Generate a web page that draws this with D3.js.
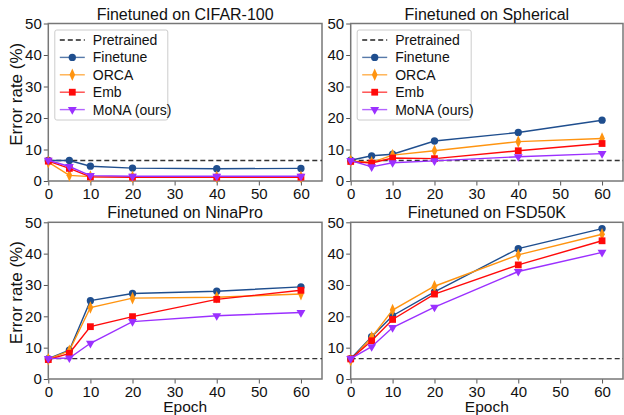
<!DOCTYPE html>
<html>
<head>
<meta charset="utf-8">
<script src="https://cdn.jsdelivr.net/npm/d3@7"></script>
<style>
  body { margin: 0; background: #fff; }
  svg { display: block; font-family: "Liberation Sans", Arial, sans-serif; }
</style>
</head>
<body>
<script>
const width = 624
const height = 415

const epochs = [0, 5, 10, 20, 40, 60]
const pretrained = 6.5
const methods = ["Finetune", "ORCA", "Emb", "MoNA (ours)"]
const titles = ["Finetuned on CIFAR-100", "Finetuned on Spherical", "Finetuned on NinaPro", "Finetuned on FSD50K"]

// error rate per method, one array per panel
const cifarErr = {
  "Finetune":    [6.5, 6.5, 4.7, 4.1, 3.9, 4.0],
  "ORCA":        [6.0, 1.8, 1.4, 1.3, 1.3, 1.3],
  "Emb":         [6.3, 4.0, 1.3, 1.2, 1.2, 1.2],
  "MoNA (ours)": [6.6, 4.6, 1.7, 1.5, 1.5, 1.5]
}
const sphericalErr = {
  "Finetune":    [6.6, 8.0, 8.5, 12.7, 15.4, 19.3],
  "ORCA":        [6.4, 5.9, 8.2, 9.6, 12.5, 13.5],
  "Emb":         [6.2, 5.7, 7.3, 7.1, 9.6, 11.9],
  "MoNA (ours)": [6.5, 4.5, 5.8, 6.4, 7.7, 8.7]
}
const ninaproErr = {
  "Finetune":    [6.5, 9.2, 25.0, 27.3, 28.0, 29.4],
  "ORCA":        [6.3, 9.0, 22.8, 25.8, 26.1, 27.1],
  "Emb":         [6.2, 8.2, 16.7, 19.9, 25.4, 28.3],
  "MoNA (ours)": [6.5, 6.7, 11.4, 18.3, 20.2, 21.2]
}
const fsdErr = {
  "Finetune":    [6.5, 13.5, 20.2, 27.8, 41.6, 48.0],
  "ORCA":        [6.0, 13.3, 22.0, 29.6, 39.6, 46.2],
  "Emb":         [6.4, 12.2, 19.0, 27.1, 36.4, 44.1],
  "MoNA (ours)": [6.5, 10.3, 16.4, 22.9, 34.3, 40.4]
}
const panelData = [cifarErr, sphericalErr, ninaproErr, fsdErr]

const colors = {"Finetune": "#1f4e8e", "ORCA": "#ff9410", "Emb": "#ff0a0a", "MoNA (ours)": "#9b30ff"}
const symbols = {"Finetune": d3.symbolCircle, "ORCA": d3.symbolDiamond, "Emb": d3.symbolSquare, "MoNA (ours)": d3.symbolTriangle}
const symSize = {"Finetune": 42, "ORCA": 38, "Emb": 46, "MoNA (ours)": 34}

// panel boxes: left, top, right, bottom
const panels = [
  {x0: 48.3, y0: 23.5, x1: 322, y1: 181},
  {x0: 350.7, y0: 23.5, x1: 623, y1: 181},
  {x0: 48.3, y0: 222.3, x1: 322, y1: 379},
  {x0: 350.7, y0: 222.3, x1: 623, y1: 379}
]

const markTransform = (m, px, py) =>
  `translate(${px},${py})` + (m === "MoNA (ours)" ? " rotate(180)" : "") + (m === "ORCA" ? " scale(0.85,1.1)" : "")

const svg = d3.select("body").append("svg")
  .attr("width", width)
  .attr("height", height)

panels.forEach((p, i) => {
  const data = panelData[i]
  const x = d3.scaleLinear().domain([0, 65]).range([p.x0, p.x1])
  const y = d3.scaleLinear().domain([0, 50]).range([p.y1, p.y0])
  const g = svg.append("g")

  // axes
  const xAxis = g.append("g")
    .attr("transform", `translate(0,${p.y1})`)
    .call(d3.axisBottom(x).tickValues([0, 10, 20, 30, 40, 50, 60]).tickSizeOuter(0).tickSize(4.5).tickPadding(2.5))
  const yAxis = g.append("g")
    .attr("transform", `translate(${p.x0},0)`)
    .call(d3.axisLeft(y).tickValues([0, 10, 20, 30, 40, 50]).tickSizeOuter(0).tickSize(4.5).tickPadding(2))
  ;[xAxis, yAxis].forEach(a => {
    a.select(".domain").remove()
    a.selectAll(".tick line").attr("stroke", "#555").attr("stroke-width", 1)
    a.selectAll(".tick text").attr("fill", "#111").style("font-size", "15px").style("font-family", "Liberation Sans, Arial, sans-serif")
  })

  // frame
  g.append("rect")
    .attr("x", p.x0).attr("y", p.y0)
    .attr("width", p.x1 - p.x0).attr("height", p.y1 - p.y0)
    .attr("fill", "none").attr("stroke", "#777").attr("stroke-width", 1.5)

  // pretrained baseline
  g.append("line")
    .attr("x1", p.x0).attr("x2", p.x1)
    .attr("y1", y(pretrained)).attr("y2", y(pretrained))
    .attr("stroke", "#333").attr("stroke-width", 1.4)
    .attr("stroke-dasharray", "5,3")

  const line = d3.line().x((d, j) => x(epochs[j])).y(d => y(d))

  methods.forEach(m => {
    const vals = data[m]
    g.append("path")
      .datum(vals)
      .attr("d", line)
      .attr("fill", "none")
      .attr("stroke", colors[m])
      .attr("stroke-width", 1.4)
    g.selectAll(null)
      .data(vals)
      .enter()
      .append("path")
      .attr("d", d3.symbol().type(symbols[m]).size(symSize[m]))
      .attr("transform", (d, j) => markTransform(m, x(epochs[j]), y(d)))
      .attr("fill", colors[m])
  })

  // title
  svg.append("text")
    .attr("x", (p.x0 + p.x1) / 2)
    .attr("y", p.y0 - 4)
    .attr("text-anchor", "middle")
    .style("font-size", "16px")
    .attr("fill", "#111")
    .text(titles[i])

  if (i % 2 === 0) {
    svg.append("text")
      .attr("transform", `translate(22,${(p.y0 + p.y1) / 2 - 8}) rotate(-90)`)
      .attr("text-anchor", "middle")
      .style("font-size", "17px")
      .attr("fill", "#111")
      .text("Error rate (%)")
  }
  if (i >= 2) {
    svg.append("text")
      .attr("x", (p.x0 + p.x1) / 2)
      .attr("y", 412)
      .attr("text-anchor", "middle")
      .style("font-size", "15.5px")
      .attr("fill", "#111")
      .text("Epoch")
  }

  // legend on top panels
  if (i < 2) {
    const lx = p.x0 + 6.5
    const ly = p.y0 + 6.5
    const leg = g.append("g")
    leg.append("rect")
      .attr("x", lx).attr("y", ly)
      .attr("width", i === 0 ? 113 : 114).attr("height", 90)
      .attr("rx", 2)
      .attr("fill", "#fff").attr("stroke", "#ccc").attr("stroke-width", 1)
    const items = ["Pretrained"].concat(methods)
    items.forEach((name, k) => {
      const cy = ly + 10 + k * 17.4
      const it = leg.append("g")
      it.append("line")
        .attr("x1", lx + 5).attr("x2", lx + 30)
        .attr("y1", cy).attr("y2", cy)
        .attr("stroke", name === "Pretrained" ? "#222" : colors[name])
        .attr("stroke-opacity", name === "Pretrained" ? 1 : 0.75)
        .attr("stroke-width", 1.4)
        .attr("stroke-dasharray", name === "Pretrained" ? "5,3" : null)
      if (name !== "Pretrained") {
        it.append("path")
          .attr("d", d3.symbol().type(symbols[name]).size(symSize[name]))
          .attr("transform", markTransform(name, lx + 17.5, cy))
          .attr("fill", colors[name])
      }
      it.append("text")
        .attr("x", lx + 38)
        .attr("y", cy)
        .attr("dy", "0.35em")
        .style("font-size", "14px")
        .attr("fill", "#111")
        .text(name)
    })
  }
})
</script>
</body>
</html>
